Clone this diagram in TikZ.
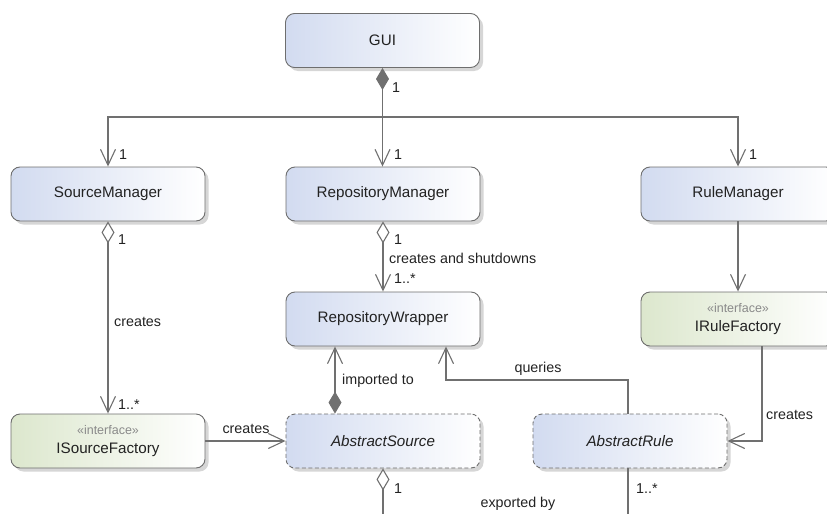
\documentclass[tikz,border=0pt]{standalone}
\usepackage{fontspec}
\setmainfont{Liberation Sans}
\usetikzlibrary{arrows.meta,shadows}

\definecolor{classblue}{HTML}{D2DBF0}
\definecolor{ifacegreen}{HTML}{DCE7CD}
\definecolor{edgegray}{HTML}{707070}
\definecolor{framegray}{HTML}{6E6E6E}
\definecolor{textdark}{HTML}{222222}
\definecolor{stereogray}{HTML}{8A8A8A}

\tikzset{
  openv/.tip={Straight Barb[length=16pt,width=15pt,line width=1.1pt]},
  solidlozenge/.tip={Diamond[length=22pt,width=13pt,fill=edgegray]},
  hollowlozenge/.tip={Diamond[open,length=22pt,width=13pt,fill=white]},
  umlbox/.style={
    rounded corners=9pt, draw=framegray, line width=0.9pt,
    minimum width=194pt, minimum height=54pt, inner sep=0pt,
    text=textdark, font=\fontsize{15.2}{18}\selectfont, align=center,
    general shadow={fill=black!16, shadow xshift=3.5pt, shadow yshift=-3.5pt}},
  classbox/.style={umlbox, left color=classblue, right color=white},
  ifacebox/.style={umlbox, left color=ifacegreen, right color=white},
  abstractbox/.style={classbox, dash pattern=on 4pt off 2.5pt,
    font=\fontsize{15.2}{18}\selectfont\itshape},
  conn/.style={draw=edgegray, line width=1.1pt},
  lbl/.style={text=textdark, font=\fontsize{14.3}{16}\selectfont, inner sep=0pt}
}
\newcommand{\stereotype}[1]{{\fontsize{12.5}{14}\selectfont\color{stereogray}#1}}

\begin{document}
\begin{tikzpicture}[x=1pt,y=-1pt]
\useasboundingbox (0,0) rectangle (827,514);
\clip (0,0) rectangle (827,514);

% classes
\node[classbox] (gui) at (382.5,40.5) {GUI};
\node[classbox] (srcmgr) at (108,194) {SourceManager};
\node[classbox] (repomgr) at (383,194) {RepositoryManager};
\node[classbox] (rulemgr) at (738,194) {RuleManager};
\node[classbox] (repowrap) at (383,319) {RepositoryWrapper};
\node[ifacebox] (rulefac) at (738,319) {\stereotype{«interface»}\\[1pt]IRuleFactory};
\node[ifacebox] (srcfac) at (108,441) {\stereotype{«interface»}\\[1pt]ISourceFactory};
\node[abstractbox] (abssrc) at (383,441) {AbstractSource};
\node[abstractbox] (absrule) at (630,441) {AbstractRule};

% helper points
\coordinate (hub) at (382.5,117);
\coordinate (srcout) at (383,514);
\coordinate (ruleout) at (628,514);
\coordinate (qturn) at (628,380);

% GUI owns the three managers
\draw[conn, arrows={solidlozenge-}] (gui.south) -- (hub);
\draw[conn, arrows={-openv}] (hub) -| (srcmgr.north);
\draw[conn, arrows={-openv}] (hub) -- (hub |- repomgr.north);
\draw[conn, arrows={-openv}] (hub) -| (rulemgr.north);
\node[lbl, anchor=west] (m1) at (392,88) {1};
\node[lbl, anchor=west] (m2) at (119,155) {1};
\node[lbl, anchor=west] (m3) at (394,155) {1};
\node[lbl, anchor=west] (m4) at (749,155) {1};

% SourceManager creates ISourceFactory
\draw[conn, arrows={hollowlozenge-openv}] (srcmgr.south) -- (srcfac.north);
\node[lbl, anchor=west] (m5) at (118,240) {1};
\node[lbl, anchor=west] (l1) at (114,322) {creates};
\node[lbl, anchor=west] (m6) at (118,405) {1..*};

% RepositoryManager creates and shuts down RepositoryWrapper
\draw[conn, arrows={hollowlozenge-openv}] (repomgr.south) -- (repowrap.north);
\node[lbl, anchor=west] (m7) at (394,240) {1};
\node[lbl, anchor=west] (l2) at (389,258) {creates and shutdowns};
\node[lbl, anchor=west] (m8) at (394,279) {1..*};

% RuleManager uses IRuleFactory
\draw[conn, arrows={-openv}] (rulemgr.south) -- (rulefac.north);

% IRuleFactory creates AbstractRule
\draw[conn, arrows={-openv}] (rulefac.south -| 762,0) |- (absrule.east);
\node[lbl, anchor=west] (l3) at (766,415) {creates};

% AbstractRule queries RepositoryWrapper
\draw[conn, arrows={-openv}] (absrule.north -| qturn) -- (qturn) -| (repowrap.south -| 446,0);
\node[lbl] (l4) at (538,369) {queries};

% AbstractSource imported to RepositoryWrapper
\draw[conn, arrows={solidlozenge-openv}] (abssrc.north -| 335,0) -- (repowrap.south -| 335,0);
\node[lbl, anchor=west] (l5) at (342,381) {imported to};

% ISourceFactory creates AbstractSource
\draw[conn, arrows={-openv}] (srcfac.east) -- (abssrc.west);
\node[lbl] (l6) at (246,429) {creates};

% outgoing associations
\draw[conn, arrows={hollowlozenge-}] (abssrc.south) -- (srcout);
\node[lbl, anchor=west] (m9) at (394,489) {1};
\node[lbl] (l7) at (518,504) {exported by};
\draw[conn] (absrule.south -| ruleout) -- (ruleout);
\node[lbl, anchor=west] (m10) at (636,489) {1..*};
\end{tikzpicture}
\end{document}
